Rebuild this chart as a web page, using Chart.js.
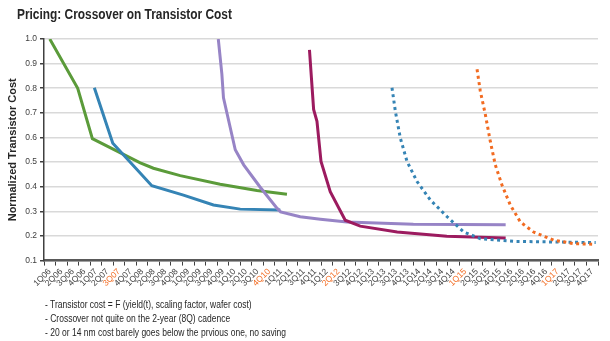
<!DOCTYPE html>
<html>
<head>
<meta charset="utf-8">
<script src="https://cdn.jsdelivr.net/npm/chart.js@4.4.0/dist/chart.umd.min.js"></script>
<style>
  body { margin: 0; background: #fff; }
  #wrap { position: relative; width: 610px; height: 341px; font-family: 'Liberation Sans', Arial, sans-serif; }
  #chart-box { position: absolute; left: 0; top: 0; width: 610px; height: 341px; }
  #title { position: absolute; left: 17px; top: 6px; font-size: 14px; font-weight: bold; color: #262626;
           transform: scaleX(0.85); transform-origin: left top; white-space: nowrap; }
  #notes { position: absolute; left: 45px; top: 298px; font-size: 10px; line-height: 14px; color: #262626;
           transform: scaleX(0.85); transform-origin: left top; white-space: nowrap; }
</style>
</head>
<body>
<div id="wrap">
  <div id="chart-box"><canvas id="chart"></canvas></div>
  <div id="title">Pricing: Crossover on Transistor Cost</div>
  <div id="notes">
    - Transistor cost = F (yield(t), scaling factor, wafer cost)<br>
    - Crossover not quite on the 2-year (8Q) cadence<br>
    - 20 or 14 nm cost barely goes below the prvious one, no saving
  </div>
</div>
<script>
// Quarter labels on the x axis
const quarters = [
    '1Q06', '2Q06', '3Q06', '4Q06', '1Q07', '2Q07', '3Q07', '4Q07',
    '1Q08', '2Q08', '3Q08', '4Q08', '1Q09', '2Q09', '3Q09', '4Q09',
    '1Q10', '2Q10', '3Q10', '4Q10', '1Q11', '2Q11', '3Q11', '4Q11',
    '1Q12', '2Q12', '3Q12', '4Q12', '1Q13', '2Q13', '3Q13', '4Q13',
    '1Q14', '2Q14', '3Q14', '4Q14', '1Q15', '2Q15', '3Q15', '4Q15',
    '1Q16', '2Q16', '3Q16', '4Q16', '1Q17', '2Q17', '3Q17', '4Q17'
];
// Quarters whose label is drawn in orange
const highlightQuarters = ['3Q07', '4Q10', '2Q12', '1Q15', '1Q17'];

const yTicks = [0.1, 0.2, 0.3, 0.4, 0.5, 0.6, 0.7, 0.8, 0.9, 1.0];

// Series: position along the quarter axis (0 = 1Q06) and normalized cost
const greenX = [0, 2.42, 3.69, 7.84, 8.98, 11.3, 14.76, 17.95, 20.55];
const greenY = [1.0, 0.80, 0.595, 0.497, 0.475, 0.445, 0.41, 0.385, 0.369];

const blueX = [3.86, 5.46, 8.84, 11.58, 14.18, 16.5, 19.97];
const blueY = [0.802, 0.577, 0.404, 0.366, 0.326, 0.309, 0.305];

const purpleX = [14.6, 14.91, 15.05, 16.07, 16.8, 18.2, 19.7, 20.0, 21.7, 23.45, 25.75, 31.5, 39.5];
const purpleY = [1.0, 0.857, 0.761, 0.55, 0.489, 0.40, 0.312, 0.298, 0.278, 0.268, 0.257, 0.248, 0.246];

const magentaX = [22.5, 22.86, 23.15, 23.5, 24.3, 25.6, 26.9, 30.1, 34.4, 39.5];
const magentaY = [0.956, 0.714, 0.666, 0.503, 0.38, 0.264, 0.24, 0.216, 0.199, 0.192];

const blueDotX = [29.65, 29.94, 30.37, 30.95, 31.82, 32.98, 34.43, 35.87, 37.31, 40.2, 43.1, 47.3];
const blueDotY = [0.802, 0.707, 0.598, 0.503, 0.421, 0.346, 0.278, 0.216, 0.189, 0.178, 0.176, 0.173];

const orangeDotX = [37.02, 37.3, 37.74, 38.17, 38.6, 39.18, 39.9, 40.77, 41.92, 43.65, 45.39, 47.27];
const orangeDotY = [0.877, 0.789, 0.693, 0.584, 0.489, 0.407, 0.326, 0.257, 0.216, 0.183, 0.169, 0.166];

function points(xs, ys) {
    return xs.map((x, i) => ({ x: x, y: ys[i] }));
}

function series(xs, ys, color, dotted) {
    return {
        data: points(xs, ys),
        xAxisID: 'xv',
        yAxisID: 'y',
        borderColor: color,
        borderWidth: 3,
        borderDash: dotted ? [3, 3.5] : [],
        pointRadius: 0,
        tension: 0,
        fill: false
    };
}

Chart.defaults.font.family = "'Liberation Sans', Arial, sans-serif";

const ctx = document.getElementById('chart').getContext('2d');
new Chart(ctx, {
    type: 'line',
    data: {
        datasets: [
            series(orangeDotX, orangeDotY, '#f26b21', true),
            series(blueDotX, blueDotY, '#3584b5', true),
            series(magentaX, magentaY, '#9c1b5f', false),
            series(purpleX, purpleY, '#9784c6', false),
            series(blueX, blueY, '#3584b5', false),
            series(greenX, greenY, '#5b9b3a', false)
        ]
    },
    options: {
        responsive: true,
        maintainAspectRatio: false,
        animation: false,
        layout: { padding: { top: 39, right: 12, bottom: 51.5, left: 3 } },
        plugins: {
            legend: { display: false },
            tooltip: { enabled: false }
        },
        scales: {
            x: {
                type: 'category',
                labels: quarters,
                offset: true,
                grid: { drawOnChartArea: false, tickColor: '#404040', tickLength: 5, offset: true },
                border: { color: '#595959', width: 2.5 },
                ticks: {
                    autoSkip: false,
                    maxRotation: 45,
                    minRotation: 45,
                    padding: 1,
                    font: { size: 8.5 },
                    color: function(c) {
                        return highlightQuarters.includes(quarters[c.index]) ? '#f26b21' : '#404040';
                    }
                }
            },
            xv: {
                type: 'linear',
                axis: 'x',
                display: false,
                min: -0.5,
                max: 47.5
            },
            y: {
                min: yTicks[0],
                max: yTicks[yTicks.length - 1],
                afterBuildTicks: function(scale) {
                    scale.ticks = yTicks.map(v => ({ value: v }));
                },
                ticks: {
                    font: { size: 8.5 },
                    color: '#404040',
                    padding: 3,
                    callback: function(value) {
                        return value.toFixed(1);
                    }
                },
                grid: { color: '#d9d9d9', lineWidth: 1.5, tickColor: '#404040', tickLength: 4 },
                border: { color: '#404040', width: 1.5 },
                title: {
                    display: true,
                    text: 'Normalized Transistor Cost',
                    font: { size: 11, weight: 'bold' },
                    color: '#262626',
                    padding: 3
                }
            }
        }
    }
});
</script>
</body>
</html>
